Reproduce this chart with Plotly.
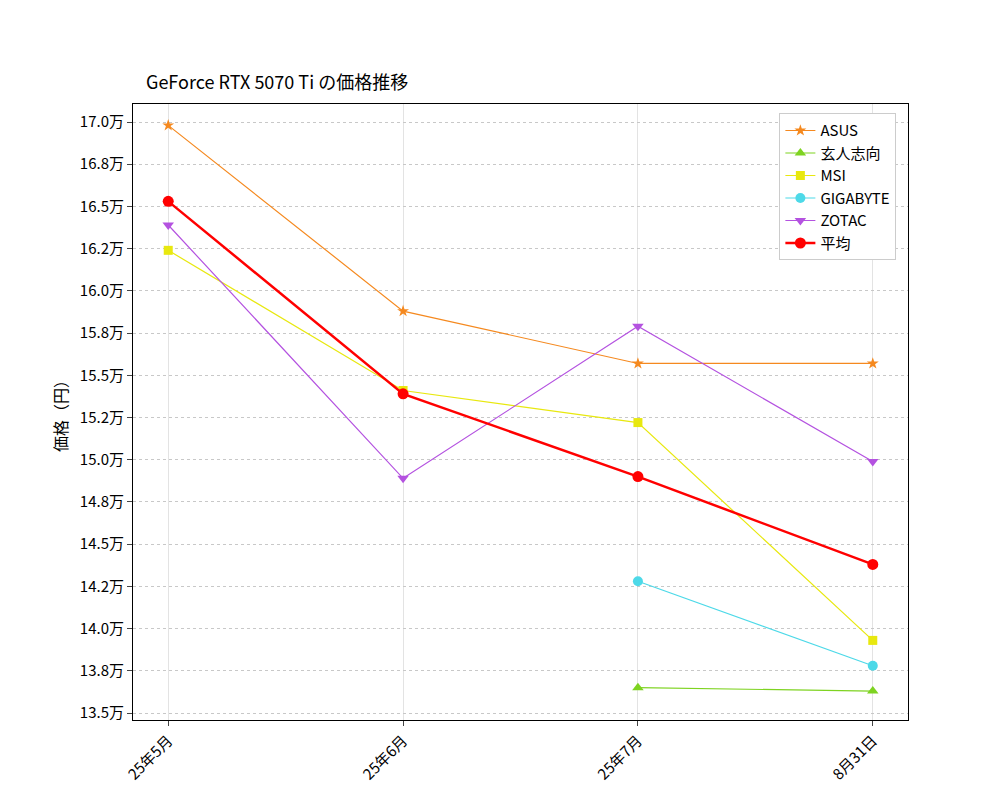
import plotly.graph_objects as go

months = ["25年5月", "25年6月", "25年7月", "8月31日"]
asus = [169800, 158800, 155700, 155700]
kuro = [None, None, 136500, 136300]
msi = [162400, 154100, 152200, 139300]
giga = [None, None, 142800, 137800]
zotac = [163900, 148900, 157900, 149900]
avg = [165300, 153900, 149000, 143800]

yticks = [135000 + 2500 * i for i in range(15)]
ylabels = [f"{v/10000:.1f}万" for v in yticks]

series = [
    ("ASUS", asus, "#f5891f", "star", 1.2, 9),
    ("玄人志向", kuro, "#7ed321", "triangle-up", 1.2, 10),
    ("MSI", msi, "#e8e80f", "square", 1.2, 9),
    ("GIGABYTE", giga, "#4dd9e8", "circle", 1.2, 10),
    ("ZOTAC", zotac, "#b452e0", "triangle-down", 1.2, 10),
    ("平均", avg, "#ff0000", "circle", 2.5, 11),
]

fig = go.Figure()
x = list(range(len(months)))
for name, ys, col, sym, w, ms in series:
    fig.add_trace(go.Scatter(x=x, y=ys, name=name, mode="lines+markers",
                             line=dict(color=col, width=w),
                             marker=dict(symbol=sym, size=ms, color=col)))

font = "Noto Sans CJK JP, DejaVu Sans Mono"
fig.update_layout(
    width=1000, height=800, paper_bgcolor="white", plot_bgcolor="white",
    margin=dict(l=125, r=100, t=96, b=88, autoexpand=False),
    font=dict(family=font, size=15, color="black"),
    title=dict(text="GeForce RTX 5070 Ti の価格推移", x=0.138, xanchor="left",
               y=0.907, yanchor="middle", font=dict(size=18)),
    legend=dict(x=0.985, y=0.985, xanchor="right", yanchor="top",
                bordercolor="#cccccc", borderwidth=1, bgcolor="white",
                font=dict(size=15)),
    showlegend=True,
)
fig.update_xaxes(range=[-0.15, 3.15], tickvals=x, ticktext=months, tickangle=-45,
                 automargin=False,
                 showline=True, linecolor="black", mirror=True, ticks="outside",
                 showgrid=True, gridcolor="#e3e3e3", zeroline=False)
fig.update_yaxes(range=[134586, 171066], tickvals=yticks, ticktext=ylabels,
                 automargin=False,
                 title=dict(text="価格（円）", standoff=8, font=dict(size=16)),
                 showline=True, linecolor="black", mirror=True, ticks="outside",
                 showgrid=True, gridcolor="#c8c8c8", griddash="dot", zeroline=False)

fig.write_html("out.html")
